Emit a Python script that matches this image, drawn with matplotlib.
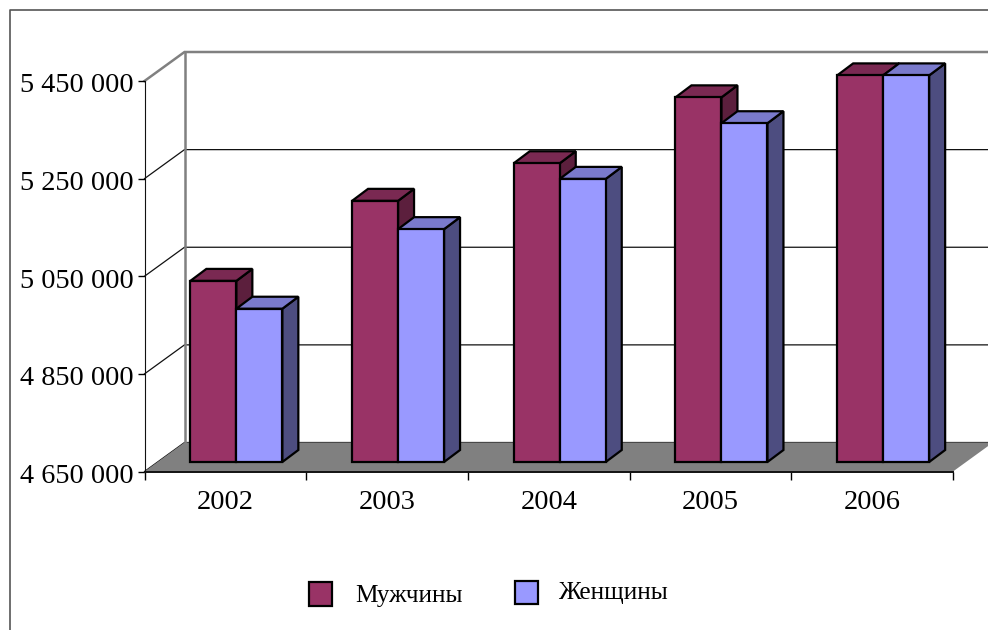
import matplotlib
matplotlib.use("Agg")
import matplotlib.pyplot as plt
from matplotlib.patches import Polygon, Rectangle
from matplotlib.lines import Line2D
from matplotlib.ticker import FuncFormatter
from matplotlib.transforms import ScaledTranslation

plt.rcParams['font.family'] = ['Liberation Serif', 'DejaVu Serif']

years = ['2002', '2003', '2004', '2005', '2006']
men = [5021000, 5185000, 5262000, 5397000, 5442000]
women = [4964000, 5127000, 5230000, 5344000, 5442000]
yticks = [4650000, 4850000, 5050000, 5250000, 5450000]

MEN_COL = ('#993366', '#7a2952', '#5c1f3d')
WOMEN_COL = ('#9999ff', '#7a7acc', '#4d4d80')

W, H = 988, 630
LEFT, RIGHT, TOP, BOTTOM = 144.5, 953, 81, 471.5

fig = plt.figure(figsize=(W / 100, H / 100), dpi=100)

# pixel layer for the frame and the legend
bg = fig.add_axes([0, 0, 1, 1])
bg.set_xlim(0, W)
bg.set_ylim(H, 0)
bg.axis('off')
bg.add_line(Line2D([10, 10, W], [H, 10, 10], color='#555555', lw=1.2))

ax = fig.add_axes([LEFT / W, 1 - BOTTOM / H, (RIGHT - LEFT) / W, (BOTTOM - TOP) / H])
ax.set_xlim(0, len(years))
ax.set_ylim(yticks[0], yticks[-1])
ax.patch.set_alpha(0)
ax.spines['top'].set_visible(False)
ax.spines['right'].set_visible(False)
ax.spines['left'].set_color('#111111')
ax.spines['bottom'].set_color('#111111')
ax.spines['bottom'].set_linewidth(1.4)

# pixels to data units
px_x = len(years) / (RIGHT - LEFT)
px_y = (yticks[-1] - yticks[0]) / (BOTTOM - TOP)


def poly(pts, col, ec=None, lw=0, z=2):
    ax.add_patch(Polygon(pts, closed=True, facecolor=col, edgecolor=ec or col,
                         linewidth=lw, clip_on=False, zorder=z, joinstyle='miter'))


# walls and gridlines
wall_dx = 40 * px_x
wall_dy = 29 * px_y
y0 = yticks[0]
for t in yticks:
    top = t == yticks[-1]
    c = '#808080' if top else '#111111'
    lw = 1.8 if top else 0.9
    ax.plot([0, wall_dx, len(years) + wall_dx], [t, t + wall_dy, t + wall_dy], color=c,
            lw=lw, clip_on=False, zorder=1, solid_joinstyle='miter')
ax.plot([wall_dx, wall_dx], [y0 + wall_dy, yticks[-1] + wall_dy], color='#808080', lw=1.8,
        clip_on=False, zorder=1)

# floor
poly([(0, y0), (len(years), y0), (len(years) + wall_dx, y0 + wall_dy), (wall_dx, y0 + wall_dy)],
     '#808080', z=1.5)

# bars
front_dx = 11 * px_x
front_dy = 9.5 * px_y
bar_dx = 16 * px_x
bar_dy = 12 * px_y
bar_w = 46 * px_x


def bar3d(x, val, cols):
    x0 = x + front_dx
    x1 = x0 + bar_w
    b = y0 + front_dy
    top = val + front_dy
    line = dict(ec='black', lw=1.6, z=3)
    poly([(x1, b), (x1 + bar_dx, b + bar_dy), (x1 + bar_dx, top + bar_dy), (x1, top)], cols[2], **line)
    poly([(x0, top), (x1, top), (x1 + bar_dx, top + bar_dy), (x0 + bar_dx, top + bar_dy)], cols[1], **line)
    poly([(x0, b), (x1, b), (x1, top), (x0, top)], cols[0], **line)


for i, year in enumerate(years):
    centre = i + 0.5
    bar3d(centre - bar_w, men[i], MEN_COL)
    bar3d(centre, women[i], WOMEN_COL)

# ticks
ax.set_yticks(yticks)
ax.yaxis.set_major_formatter(FuncFormatter(lambda v, p: f'{int(v):,}'.replace(',', ' ')))
ax.tick_params(axis='y', length=5, width=1, pad=3, labelsize=20.3)
# labels sit a little under their ticks in the original
for lab in ax.get_yticklabels():
    lab.set_transform(lab.get_transform() + ScaledTranslation(0, -2 / 100, fig.dpi_scale_trans))
ax.set_xticks(range(len(years) + 1))
ax.set_xticklabels([])
ax.tick_params(axis='x', which='major', length=6, width=1)
ax.set_xticks([i + 0.5 for i in range(len(years))], minor=True)
ax.set_xticklabels(years, minor=True)
ax.tick_params(axis='x', which='minor', length=0, pad=13.5, labelsize=20.5)

# legend
bg.add_patch(Rectangle((308.5, 582), 23, 24, facecolor=MEN_COL[0], edgecolor='black', lw=1.6))
bg.add_patch(Rectangle((515, 581), 23, 23, facecolor=WOMEN_COL[0], edgecolor='black', lw=1.6))
bg.text(355, 596, 'Мужчины', fontsize=18.2, ha='left', va='center', color='black')
bg.text(558, 593, 'Женщины', fontsize=18.3, ha='left', va='center', color='black')

fig.savefig('out.png', dpi=100)
